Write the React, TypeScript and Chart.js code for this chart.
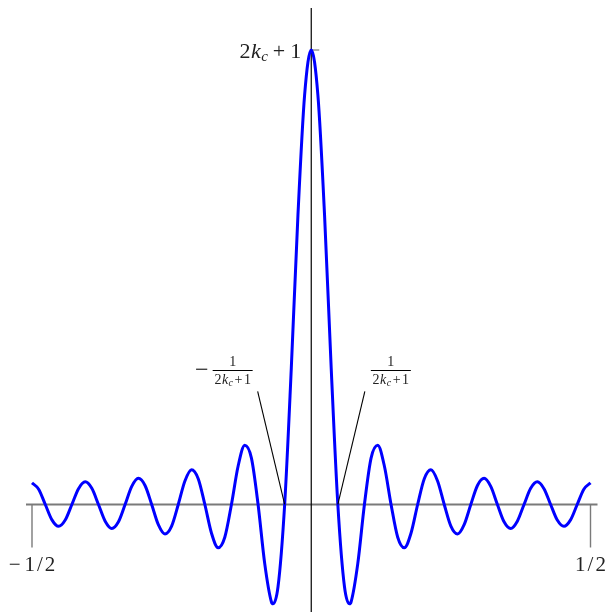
import { useEffect, useRef } from "react";
import { Chart, registerables } from "chart.js";

Chart.register(...registerables);

// Samples of the kernel curve (x in units of the period)
const X_VALUES = [
  -0.5, -0.4881, -0.4762, -0.4643, -0.4524, -0.4405, -0.4286, -0.4167, -0.4048, -0.3929,
  -0.381, -0.369, -0.3571, -0.3452, -0.3333, -0.3214, -0.3095, -0.2976, -0.2857, -0.2738,
  -0.2619, -0.25, -0.2381, -0.2262, -0.2143, -0.2024, -0.1905, -0.1786, -0.1667, -0.1548,
  -0.1429, -0.131, -0.119, -0.1071, -0.0952, -0.0833, -0.0714, -0.0685, -0.0595, -0.0476, -0.0357,
  -0.0238, -0.0119, 0,
  0.0119, 0.0238, 0.0357, 0.0476, 0.0595, 0.0685, 0.0714, 0.0833, 0.0952, 0.1071, 0.119,
  0.131, 0.1429, 0.1548, 0.1667, 0.1786, 0.1905, 0.2024, 0.2143, 0.2262, 0.2381,
  0.25, 0.2619, 0.2738, 0.2857, 0.2976, 0.3095, 0.3214, 0.3333, 0.3452, 0.3571,
  0.369, 0.381, 0.3929, 0.4048, 0.4167, 0.4286, 0.4405, 0.4524, 0.4643, 0.4762,
  0.4881, 0.5,
];
const Y_VALUES = [
  1, 0.708, 0, -0.712, -1.011, -0.72, 0, 0.732, 1.046, 0.749,
  0, -0.771, -1.11, -0.8, 0, 0.835, 1.21, 0.879, 0, -0.933,
  -1.364, -1.0, 0, 1.084, 1.604, 1.191, 0, -1.329, -2.0, -1.513,
  0, 1.768, 2.737, 2.141, 0, -2.732, -4.494, -4.59, -3.803, 0, 6.315,
  13.38, 18.91, 21,
  18.91, 13.38, 6.315, 0, -3.803, -4.59, -4.494, -2.732, 0, 2.141, 2.737,
  1.768, 0, -1.513, -2.0, -1.329, 0, 1.191, 1.604, 1.084, 0,
  -1.0, -1.364, -0.933, 0, 0.879, 1.21, 0.835, 0, -0.8, -1.11,
  -0.771, 0, 0.749, 1.046, 0.732, 0, -0.72, -1.011, -0.712, 0,
  0.708, 1,
];

const X_TICKS = [-0.5, 0.5];
const X_TICK_LABELS = [["−", "1", "/", "2"], ["1", "/", "2"]];
const PEAK_VALUE = 21;
const ZERO_MARKS = [-1 / 21, 1 / 21];

const SERIF = '"Liberation Serif", "Times New Roman", serif';

type Seg = { t: string; size: number; italic?: boolean; dy?: number; gap?: number };

function segWidth(ctx: CanvasRenderingContext2D, segs: Seg[]) {
  let w = 0;
  for (const s of segs) {
    ctx.font = `${s.italic ? "italic " : ""}${s.size}px ${SERIF}`;
    w += (s.gap || 0) + ctx.measureText(s.t).width;
  }
  return w;
}

function drawSegs(ctx: CanvasRenderingContext2D, segs: Seg[], x: number, baseline: number, align: "left" | "center" | "right") {
  const w = segWidth(ctx, segs);
  let cx = align === "left" ? x : align === "center" ? x - w / 2 : x - w;
  ctx.textAlign = "left";
  ctx.textBaseline = "alphabetic";
  for (const s of segs) {
    cx += s.gap || 0;
    ctx.font = `${s.italic ? "italic " : ""}${s.size}px ${SERIF}`;
    ctx.fillText(s.t, cx, baseline + (s.dy || 0));
    cx += ctx.measureText(s.t).width;
  }
}

const denomSegs: Seg[] = [
  { t: "2", size: 14 },
  { t: "k", size: 14, italic: true, gap: 0.5 },
  { t: "c", size: 10, italic: true, dy: 2, gap: 0.5 },
  { t: "+", size: 14, gap: 1.5 },
  { t: "1", size: 14, gap: 1.5 },
];

const axesPlugin = {
  id: "mathAxes",
  beforeDatasetsDraw(chart: any) {
    const { ctx, scales, chartArea } = chart;
    const xs = scales.x;
    const ys = scales.y;
    const y0 = ys.getPixelForValue(0);
    const x0 = xs.getPixelForValue(0);
    ctx.save();
    // horizontal axis
    ctx.strokeStyle = "#7a7a7a";
    ctx.lineWidth = 2;
    ctx.beginPath();
    ctx.moveTo(xs.getPixelForValue(X_TICKS[0]) - 6, y0);
    ctx.lineTo(xs.getPixelForValue(X_TICKS[1]) + 7, y0);
    ctx.stroke();
    // x ticks
    ctx.lineWidth = 1.4;
    X_TICKS.forEach((v, i) => {
      const px = xs.getPixelForValue(v);
      ctx.beginPath();
      ctx.moveTo(px, y0);
      ctx.lineTo(px, y0 + 43);
      ctx.stroke();
      ctx.fillStyle = "#222";
      const segs: Seg[] = X_TICK_LABELS[i].map((t, k) => ({
        t,
        size: 21,
        gap: k === 0 ? 0 : t === "/" || X_TICK_LABELS[i][k - 1] === "/" ? 2 : 4,
      }));
      drawSegs(ctx, segs, px, y0 + 67, "center");
    });
    // vertical axis
    ctx.strokeStyle = "#000";
    ctx.lineWidth = 1.2;
    ctx.beginPath();
    ctx.moveTo(x0, chartArea.top);
    ctx.lineTo(x0, chart.height);
    ctx.stroke();
    // y tick
    const yp = ys.getPixelForValue(PEAK_VALUE);
    ctx.strokeStyle = "#7a7a7a";
    ctx.lineWidth = 1.2;
    ctx.beginPath();
    ctx.moveTo(x0 - 1, yp);
    ctx.lineTo(x0 + 8, yp);
    ctx.stroke();
    ctx.fillStyle = "#222";
    drawSegs(
      ctx,
      [
        { t: "2", size: 22 },
        { t: "k", size: 22, italic: true, gap: 0.5 },
        { t: "c", size: 15, italic: true, dy: 3, gap: 0.5 },
        { t: "+", size: 22, gap: 5 },
        { t: "1", size: 22, gap: 5 },
      ],
      x0 - 10,
      yp + 8,
      "right"
    );
    ctx.restore();
  },
  afterDatasetsDraw(chart: any) {
    const { ctx, scales } = chart;
    const xs = scales.x;
    const ys = scales.y;
    const y0 = ys.getPixelForValue(0);
    ctx.save();
    ZERO_MARKS.forEach((v) => {
      const px = xs.getPixelForValue(v);
      const dir = v < 0 ? -1 : 1;
      const tx = px + dir * 27;
      const ty = y0 - 113;
      ctx.strokeStyle = "#000";
      ctx.lineWidth = 1.1;
      ctx.beginPath();
      ctx.moveTo(px, y0);
      ctx.lineTo(tx, ty);
      ctx.stroke();
      // fraction
      const barY = ty - 21;
      const fracCx = v < 0 ? tx - 25 : tx + 26;
      ctx.lineWidth = 1.2;
      ctx.beginPath();
      ctx.moveTo(fracCx - 20, barY);
      ctx.lineTo(fracCx + 20, barY);
      ctx.stroke();
      ctx.fillStyle = "#222";
      drawSegs(ctx, [{ t: "1", size: 14 }], fracCx, barY - 4, "center");
      drawSegs(ctx, denomSegs, fracCx, barY + 14, "center");
      if (v < 0) {
        drawSegs(ctx, [{ t: "−", size: 24 }], fracCx - 31, barY + 7, "center");
      }
    });
    ctx.restore();
  },
};

export default function App() {
  const ref = useRef<HTMLCanvasElement | null>(null);
  useEffect(() => {
    if (!ref.current) return;
    const data = X_VALUES.map((x, i) => ({ x, y: Y_VALUES[i] }));
    const chart = new Chart(ref.current, {
      type: "line",
      data: {
        datasets: [
          {
            data,
            borderColor: "#0000ff",
            borderWidth: 3,
            pointRadius: 0,
            cubicInterpolationMode: "monotone",
            fill: false,
            clip: false as any,
          },
        ],
      },
      options: {
        animation: false,
        responsive: false,
        devicePixelRatio: 1,
        events: [],
        layout: { padding: { left: 32, right: 18.5, top: 8, bottom: 0 } },
        plugins: { legend: { display: false }, tooltip: { enabled: false } },
        scales: {
          x: { type: "linear", min: -0.5, max: 0.5, display: false },
          y: { type: "linear", min: -4.968, max: 22.941, display: false },
        },
      },
      plugins: [axesPlugin],
    });
    return () => chart.destroy();
  }, []);
  return (
    <div style={{ position: "fixed", left: 0, top: 0, width: 609, height: 612, background: "#fff" }}>
      <canvas ref={ref} width={609} height={612} style={{ display: "block", width: 609, height: 612 }} />
    </div>
  );
}
